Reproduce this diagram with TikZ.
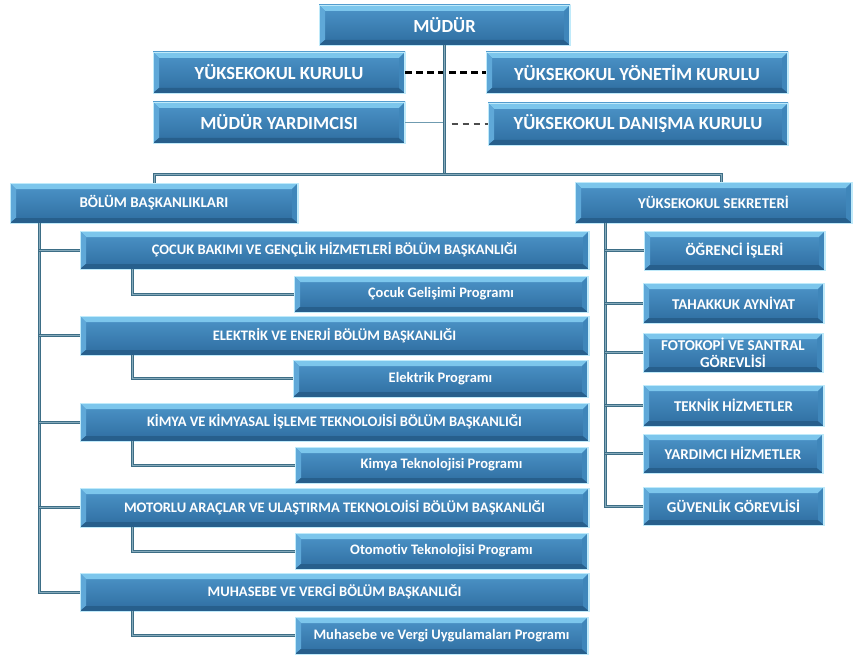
\documentclass[tikz,border=0pt]{standalone}
\usepackage{fontspec}
\setmainfont{Carlito}[Ligatures=NoCommon]
\definecolor{face1}{HTML}{4D95C9}
\definecolor{face2}{HTML}{2E6DA0}
\definecolor{edge}{HTML}{BFEAFA}
\definecolor{bevtop}{HTML}{7CC6EC}
\definecolor{bevleft}{HTML}{5FA8D8}
\definecolor{bevbot}{HTML}{275F8C}
\definecolor{bevright}{HTML}{3F86BA}
\definecolor{connc}{HTML}{3D6E86}
\definecolor{conncore}{HTML}{86AABB}
\definecolor{thinc}{HTML}{6F9BB0}
\begin{document}
\begin{tikzpicture}[x=1pt,y=-1pt,
  box/.style={draw=edge, line width=0.9pt, top color=face1, bottom color=face2,
    text=white, font=\bfseries, inner sep=0pt, align=center,
    path picture={
      \coordinate (nw) at (path picture bounding box.north west);
      \coordinate (ne) at (path picture bounding box.north east);
      \coordinate (sw) at (path picture bounding box.south west);
      \coordinate (se) at (path picture bounding box.south east);
      \fill[bevtop] (nw) -- (ne) -- ([xshift=-6pt,yshift=-6pt]ne) -- ([xshift=6pt,yshift=-6pt]nw) -- cycle;
      \fill[bevleft] (nw) -- ([xshift=6pt,yshift=-6pt]nw) -- ([xshift=6pt,yshift=5pt]sw) -- (sw) -- cycle;
      \fill[bevbot] (sw) -- ([xshift=6pt,yshift=5pt]sw) -- ([xshift=-6pt,yshift=5pt]se) -- (se) -- cycle;
      \fill[bevright] (ne) -- ([xshift=-6pt,yshift=-6pt]ne) -- ([xshift=-6pt,yshift=5pt]se) -- (se) -- cycle;
      \draw[edge, line width=1.6pt] (ne) -- (se);
    }},
  topf/.style={font=\fontsize{18.5}{20}\selectfont\bfseries},
  headf/.style={font=\fontsize{15}{17}\selectfont\bfseries},
  midf/.style={font=\fontsize{14.5}{16}\selectfont\bfseries},
  progf/.style={font=\fontsize{14.5}{16}\selectfont\bfseries},
  rightf/.style={font=\fontsize{15}{17}\selectfont\bfseries},
  conn/.style={draw=connc, line width=1.1pt, double=conncore, double distance=0.8pt},
  thinconn/.style={draw=thinc, line width=1.8pt},
  bigdash/.style={draw=black, line width=3pt, dash pattern=on 7pt off 4pt},
  smalldash/.style={draw=black!70, line width=2pt, dash pattern=on 6pt off 5pt}
]
\useasboundingbox (0,0) rectangle (854,666);
\fill[white] (0,0) rectangle (854,666);

% top
\node[box,topf,minimum width=251pt,minimum height=40pt] (mudur) at (444.5,25) {MÜDÜR};
\node[box,topf,minimum width=252pt,minimum height=41pt] (ykk) at (279,72.5) {YÜKSEKOKUL KURULU};
\node[box,topf,minimum width=302pt,minimum height=41pt] (yyk) at (637,72.5) {YÜKSEKOKUL YÖNETİM KURULU};
\node[box,topf,minimum width=252pt,minimum height=41pt] (myard) at (279,122.5) {MÜDÜR YARDIMCISI};
\node[box,topf,minimum width=300pt,minimum height=42pt] (ydk) at (638,124) {YÜKSEKOKUL DANIŞMA KURULU};

\node[box,headf,minimum width=288pt,minimum height=40pt] (bolum) at (154,203) {BÖLÜM BAŞKANLIKLARI};
\node[box,headf,minimum width=277pt,minimum height=41pt] (sek) at (713.5,202.5) {YÜKSEKOKUL SEKRETERİ};

% departments
\node[box,midf,minimum width=509pt,minimum height=38pt] (d1) at (334.5,250) {ÇOCUK BAKIMI VE GENÇLİK HİZMETLERİ BÖLÜM BAŞKANLIĞI};
\node[box,progf,minimum width=294pt,minimum height=36pt] (p1) at (441,294) {Çocuk Gelişimi Programı};
\node[box,midf,minimum width=509pt,minimum height=39pt] (d2) at (334.5,335.5) {ELEKTRİK VE ENERJİ BÖLÜM BAŞKANLIĞI};
\node[box,progf,minimum width=295pt,minimum height=37pt] (p2) at (440.5,378.5) {Elektrik Programı};
\node[box,midf,minimum width=509pt,minimum height=38pt] (d3) at (334.5,422) {KİMYA VE KİMYASAL İŞLEME TEKNOLOJİSİ BÖLÜM BAŞKANLIĞI};
\node[box,progf,minimum width=293pt,minimum height=36pt] (p3) at (441.5,465) {Kimya Teknolojisi Programı};
\node[box,midf,minimum width=509pt,minimum height=39pt] (d4) at (334.5,507.5) {MOTORLU ARAÇLAR VE ULAŞTIRMA TEKNOLOJİSİ BÖLÜM BAŞKANLIĞI};
\node[box,progf,minimum width=293pt,minimum height=36pt] (p4) at (441.5,551) {Otomotiv Teknolojisi Programı};
\node[box,midf,minimum width=509pt,minimum height=38pt] (d5) at (334.5,592) {MUHASEBE VE VERGİ BÖLÜM BAŞKANLIĞI};
\node[box,progf,minimum width=293pt,minimum height=37pt] (p5) at (441.5,635.5) {Muhasebe ve Vergi Uygulamaları Programı};

% right column
\node[box,rightf,minimum width=181pt,minimum height=39pt] (r1) at (734.5,250.5) {ÖĞRENCİ İŞLERİ};
\node[box,rightf,minimum width=181pt,minimum height=40pt] (r2) at (733.5,303) {TAHAKKUK AYNİYAT};
\node[box,rightf,minimum width=180pt,minimum height=39pt] (r3) at (733,352.5) {FOTOKOPİ VE SANTRAL\\GÖREVLİSİ};
\node[box,rightf,minimum width=181pt,minimum height=41pt] (r4) at (733.5,405.5) {TEKNİK HİZMETLER};
\node[box,rightf,minimum width=180pt,minimum height=39pt] (r5) at (733,453.5) {YARDIMCI HİZMETLER};
\node[box,rightf,minimum width=181pt,minimum height=38pt] (r6) at (733.5,506) {GÜVENLİK GÖREVLİSİ};

% dashed links
\draw[bigdash] (ykk.east) -- (yyk.west);
\coordinate (dstart) at ([xshift=7pt]mudur.south |- ydk.west);
\draw[smalldash] (dstart) -- (ydk.west);
\draw[thinconn] (myard.east) -- (myard.east -| mudur.south);

% trunk
\coordinate (j) at (444.5,174);
\coordinate (sj) at (721,174);
\draw[conn] (mudur.south) -- (j);
\draw[conn] (bolum.north) |- (sj) -- (sj |- sek.north);

% left spine
\coordinate (lx) at (39,0);
\draw[conn] (bolum.south -| lx) |- (d5.west);
\foreach \d in {d1,d2,d3,d4}{\draw[conn] (\d.west -| lx) -- (\d.west);}
\coordinate (sx) at (132,0);
\draw[conn] (d1.south -| sx) |- (p1.west);
\draw[conn] (d2.south -| sx) |- (p2.west);
\draw[conn] (d3.south -| sx) |- (p3.west);
\draw[conn] (d4.south -| sx) |- (p4.west);
\draw[conn] (d5.south -| sx) |- (p5.west);

% right spine
\coordinate (rx) at (605,0);
\draw[conn] (sek.south -| rx) |- (r6.west);
\foreach \r in {r1,r2,r3,r4,r5}{\draw[conn] (\r.west -| rx) -- (\r.west);}
\end{tikzpicture}
\end{document}
